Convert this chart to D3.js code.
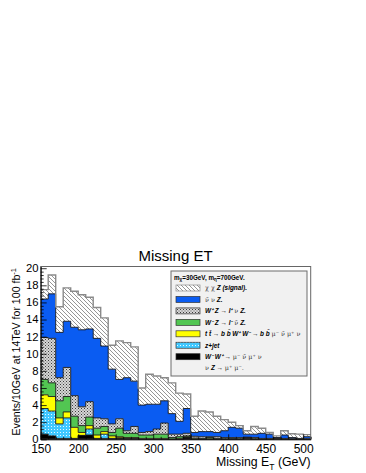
<!DOCTYPE html>
<html>
<head>
<meta charset="utf-8">
<script src="https://cdn.jsdelivr.net/npm/d3@7"></script>
<style>
body { margin: 0; background: #fff; }
svg { display: block; font-family: "Liberation Sans", Arial, Helvetica, sans-serif; }
</style>
</head>
<body>
<div id="chart"></div>
<script>
// low edge of every 10 GeV bin
var binStarts = [150,160,170,180,190,200,210,220,230,240,250,260,270,280,290,300,310,320,
                 330,340,350,360,370,380,390,400,410,420,430,440,450,460,470,480,490,500];
var binEnd = 510;

// events per bin, one array per sample (stacked bottom -> top)
var wwVals   = [0.6,0.4,0.1,0.1,0.1,0.45,0.5,0.1,0.1,0.1,0.15,0.1,0.1,0,0,0,0,0,0,0.2,
                0,0,0,0,0,0,0,0.15,0,0,0,0.1,0,0,0,0];
var zjetVals = [3.0,2.9,1.7,2.4,0,0,0.7,0,0.5,0,0,0,0,0,0,0,0,0,0,0,
                0,0,0,0,0,0,0,0,0,0,0,0,0,0,0,0];
var ttVals   = [1.6,1.7,0.7,0.7,1.3,0.35,0.4,0.4,0.3,0.3,0.15,0.1,0.1,0.1,0.1,0.1,0.1,0,0.1,0.1,
                0.05,0,0.05,0,0,0,0,0,0,0,0,0,0,0,0,0];
var wmzVals  = [1.8,1.6,2.0,1.8,1.3,0.8,1.0,0.8,0.6,0.4,1.0,0.5,0.5,0.4,0.4,0.5,0.5,0.2,0.2,0.1,
                0.1,0.1,0.15,0.1,0.05,0.1,0.05,0,0.05,0,0,0,0,0,0,0];
var wpzVals  = [4.9,5.2,2.7,3.4,2.4,2.2,1.8,1.2,0.9,1.0,1.1,0.3,0.8,0.3,0.4,0.6,1.3,0.4,0.3,0.3,
                0.2,0.2,0.1,0.2,0.15,0.1,0.15,0.1,0.15,0.1,0.1,0,0.1,0.05,0,0.05];
var nnzVals  = [4.5,5.2,5.3,5.4,8.0,9.0,8.5,9.3,8.5,6.4,4.6,6.2,5.3,3.2,3.2,2.9,2.6,2.4,1.5,2.9,
                0.45,0.6,0.6,0.5,0.8,1.2,1.1,0.35,0.4,0.6,0.5,0.1,0.4,0.15,0.1,0.25];
var sigVals  = [1.1,2.2,3.0,3.9,4.2,4.1,3.7,3.6,3.3,2.8,4.5,4.1,4.0,2.0,3.5,3.3,2.7,3.6,3.3,1.7,
                1.9,2.4,2.3,1.9,1.3,0.6,0.3,0.4,0.9,0.6,0.2,0.2,0.5,0.45,0.5,0.25];

var xTicks = [150,200,250,300,350,400,450,500];
var yTicks = [0,2,4,6,8,10,12,14,16,18,20];

var chartTitle = "Missing ET";
// legend rows, top -> bottom; "g" parts are greek (plain), "b" parts bold italic
var legendRows = [
    {key: "sig",  parts: [["\u03c7 \u03c7 ", "g"], ["Z (signal).", "b"]]},
    {key: "nnz",  parts: [["\u03bd\u0304 \u03bd ", "g"], ["Z.", "b"]]},
    {key: "wpz",  parts: [["W\u207a Z \u2192 l\u207a ", "b"], ["\u03bd ", "g"], ["Z.", "b"]]},
    {key: "wmz",  parts: [["W\u207b Z \u2192 l\u207b ", "b"], ["\u03bd\u0304 ", "g"], ["Z.", "b"]]},
    {key: "tt",   parts: [["t t\u0304 \u2192 b b\u0304 W\u207a W\u207b \u2192 b b\u0304 ", "b"], ["\u03bc\u207b \u03bd\u0304 \u03bc\u207a \u03bd", "g"]]},
    {key: "zjet", parts: [["z+jet", "b"]]},
    {key: "ww",   parts: [["W\u207b W\u207a \u2192 ", "b"], ["\u03bc\u207b \u03bd\u0304 \u03bc\u207a \u03bd", "g"]]},
    {key: null,   parts: [["\u03bd ", "g"], ["Z \u2192 ", "b"], ["\u03bc\u207a \u03bc\u207b.", "g"]]}
];

var width = 366, height = 473;
var plot = {left: 40.7, right: 310.7, top: 266.5, bottom: 439.3};

var svg = d3.select("#chart").append("svg")
    .attr("width", width)
    .attr("height", height);

// fill patterns
var defs = svg.append("defs");
var hatch = defs.append("pattern").attr("id", "hatch")
    .attr("patternUnits", "userSpaceOnUse").attr("width", 4).attr("height", 4);
hatch.append("rect").attr("width", 4).attr("height", 4).attr("fill", "#fff");
hatch.append("path").attr("d", "M-1,-1 L5,5 M-1,3 L1,5 M3,-1 L5,1")
    .attr("stroke", "#8a8a8a").attr("stroke-width", 0.9);

var checker = defs.append("pattern").attr("id", "checker")
    .attr("patternUnits", "userSpaceOnUse").attr("width", 3).attr("height", 3);
checker.append("rect").attr("width", 3).attr("height", 3).attr("fill", "#d6d6d6");
checker.append("rect").attr("width", 1).attr("height", 1).attr("fill", "#3c3c3c");
checker.append("rect").attr("x", 1.5).attr("y", 1.5).attr("width", 1).attr("height", 1).attr("fill", "#5a5a5a");

var dots = defs.append("pattern").attr("id", "dots")
    .attr("patternUnits", "userSpaceOnUse").attr("width", 3).attr("height", 3);
dots.append("rect").attr("width", 3).attr("height", 3).attr("fill", "#40c8ff");
dots.append("rect").attr("width", 1).attr("height", 1).attr("fill", "#e6f8ff");

var fills = {
    ww: "#000000", zjet: "url(#dots)", tt: "#ffff00", wmz: "#52c652",
    wpz: "url(#checker)", nnz: "#0a5cf2", sig: "url(#hatch)"
};
var keys = ["ww", "zjet", "tt", "wmz", "wpz", "nnz", "sig"];
var series = {ww: wwVals, zjet: zjetVals, tt: ttVals, wmz: wmzVals, wpz: wpzVals, nnz: nnzVals, sig: sigVals};

var rows = binStarts.map(function(b, i) {
    var r = {x: b};
    keys.forEach(function(k) { r[k] = series[k][i]; });
    return r;
});
var stacked = d3.stack().keys(keys)(rows);

var x = d3.scaleLinear().domain([150, binEnd]).range([plot.left, plot.right]);
var y = d3.scaleLinear().domain([0, 20.2]).range([plot.bottom, plot.top]);

// add closing point so the last bin gets its width
function withEnd(layer) {
    var pts = layer.map(function(d, i) { return {x: binStarts[i], y0: d[0], y1: d[1]}; });
    var last = pts[pts.length - 1];
    pts.push({x: binEnd, y0: last.y0, y1: last.y1});
    return pts;
}

var area = d3.area().curve(d3.curveStepAfter)
    .x(function(d) { return x(d.x); })
    .y0(function(d) { return y(d.y0); })
    .y1(function(d) { return y(d.y1); });
var topLine = d3.line().curve(d3.curveStepAfter)
    .x(function(d) { return x(d.x); })
    .y(function(d) { return y(d.y1); });

var histG = svg.append("g");
stacked.slice().reverse().forEach(function(layer) {
    histG.append("path")
        .attr("d", area(withEnd(layer)))
        .attr("fill", fills[layer.key]);
});
stacked.forEach(function(layer) {
    histG.append("path")
        .attr("d", topLine(withEnd(layer)))
        .attr("fill", "none")
        .attr("stroke", layer.key == "sig" ? "#8a8a8a" : "#1a1a1a")
        .attr("stroke-width", layer.key == "sig" ? 1.4 : 0.9);
});

// frame
svg.append("rect")
    .attr("x", plot.left).attr("y", plot.top)
    .attr("width", plot.right - plot.left).attr("height", plot.bottom - plot.top)
    .attr("fill", "none").attr("stroke", "#666").attr("stroke-width", 1);

// axes
var xMinor = d3.range(150, 511, 10).filter(function(v) { return v % 50 != 0; });
var yMinor = d3.range(0, 20.2, 0.4).filter(function(v) { return Math.abs(v / 2 - Math.round(v / 2)) > 0.01; });

var xAxis = svg.append("g").attr("transform", "translate(0," + plot.bottom + ")")
    .call(d3.axisBottom(x).tickValues(xTicks).tickSize(-5).tickSizeOuter(0).tickPadding(5.2));
svg.append("g").attr("transform", "translate(0," + plot.bottom + ")")
    .call(d3.axisBottom(x).tickValues(xMinor).tickSize(-2.5).tickSizeOuter(0).tickFormat(""))
    .select(".domain").remove();
var yAxis = svg.append("g").attr("transform", "translate(" + plot.left + ",0)")
    .call(d3.axisLeft(y).tickValues(yTicks).tickSize(-6).tickSizeOuter(0).tickPadding(2.2));
svg.append("g").attr("transform", "translate(" + plot.left + ",0)")
    .call(d3.axisLeft(y).tickValues(yMinor).tickSize(-3).tickSizeOuter(0).tickFormat(""))
    .select(".domain").remove();

svg.selectAll(".tick line").attr("stroke", "#000").attr("stroke-width", 0.8);
xAxis.selectAll("text").style("font-size", "12px").style("font-family", "Liberation Sans, Arial, sans-serif");
yAxis.selectAll("text").style("font-size", "11.3px").style("font-family", "Liberation Sans, Arial, sans-serif")
    .attr("dy", "0.3em");
xAxis.select(".domain").attr("stroke", "#000");
yAxis.select(".domain").attr("stroke", "#000");

// title
svg.append("text")
    .attr("x", 175.5).attr("y", 261)
    .attr("text-anchor", "middle")
    .style("font-size", "15px")
    .text(chartTitle);

// x axis title
var xt = svg.append("text")
    .attr("x", plot.right).attr("y", 465.5)
    .attr("text-anchor", "end")
    .style("font-size", "12.3px");
xt.append("tspan").text("Missing E");
xt.append("tspan").attr("dy", 4).style("font-size", "8.5px").text("T");
xt.append("tspan").attr("dy", -4).text(" (GeV)");

// y axis title
var yt = svg.append("text")
    .attr("transform", "translate(19.5," + 268 + ") rotate(-90)")
    .attr("text-anchor", "end")
    .style("font-size", "10.6px");
yt.append("tspan").text("Events/10GeV at 14TeV for 100 fb");
yt.append("tspan").attr("dy", -4).style("font-size", "7.5px").text("-1");

// legend
var leg = svg.append("g");
leg.append("rect")
    .attr("x", 171).attr("y", 271).attr("width", 136).attr("height", 105)
    .attr("fill", "#f1f1f1").attr("stroke", "#6d6d6d").attr("stroke-width", 1);
var hdr = leg.append("text")
    .attr("x", 174).attr("y", 279.5)
    .style("font-size", "6.3px").style("font-weight", "bold");
hdr.append("tspan").text("m");
hdr.append("tspan").attr("dy", 1.5).style("font-size", "4.5px").text("\u03c7");
hdr.append("tspan").attr("dy", -1.5).text("=30GeV, m");
hdr.append("tspan").attr("dy", 1.5).style("font-size", "4.5px").text("\u03b7");
hdr.append("tspan").attr("dy", -1.5).text("=700GeV.");

legendRows.forEach(function(row, i) {
    var cy = 288 + i * 11.45;
    if (row.key) {
        leg.append("rect")
            .attr("x", 176).attr("y", cy - 3).attr("width", 24).attr("height", 6)
            .attr("fill", fills[row.key])
            .attr("stroke", row.key == "sig" ? "#8a8a8a" : "#333")
            .attr("stroke-width", 0.7);
    }
    var t = leg.append("text")
        .attr("x", 205).attr("y", cy + 2.3)
        .style("font-size", "6.4px");
    row.parts.forEach(function(p) {
        var sp = t.append("tspan").text(p[0]);
        if (p[1] == "b") {
            sp.style("font-weight", "bold").style("font-style", "italic");
        } else {
            sp.style("font-family", "DejaVu Serif, serif").style("fill", "#333");
        }
    });
});
</script>
</body>
</html>
